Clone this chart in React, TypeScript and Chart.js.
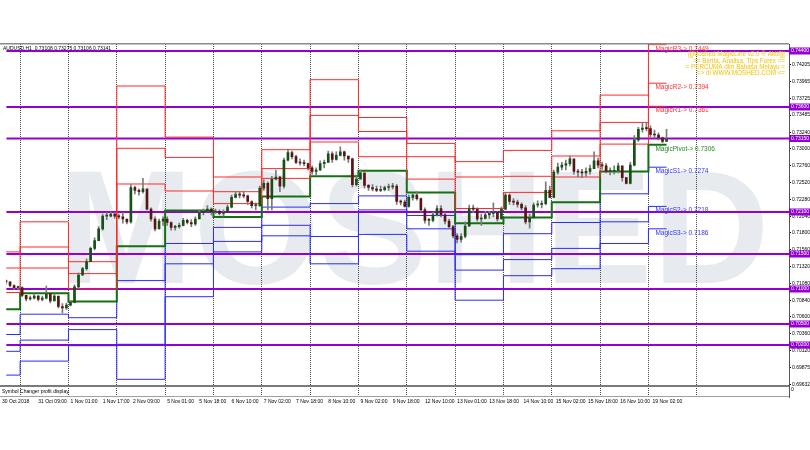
import React, { useEffect, useRef } from "react";
import { Chart, registerables } from "chart.js";
Chart.register(...registerables);

// ---------- data ----------
const symbolInfo = "AUDUSD,H1  0.73108 0.73275 0.73106 0.73141";

// day starts (H1 bar index) for 30 Oct .. 19 Nov 2018
const dayNames = ["30 Oct", "31 Oct", "1 Nov", "2 Nov", "5 Nov", "6 Nov", "7 Nov", "8 Nov", "9 Nov", "12 Nov", "13 Nov", "14 Nov", "15 Nov", "16 Nov", "19 Nov"];
const dayStarts = [0, 24, 48, 72, 96, 120, 144, 168, 192, 216, 240, 264, 288, 312, 336];
const separators = [24, 48, 72, 96, 120, 144, 168, 192, 216, 240, 264, 288, 312, 336, 360];
const lastBar = 345;

// time axis labels
const timeLabels = ["30 Oct 2018", "31 Oct 09:00", "1 Nov 01:00", "1 Nov 17:00", "2 Nov 09:00", "5 Nov 01:00", "5 Nov 18:00", "6 Nov 10:00", "7 Nov 02:00", "7 Nov 18:00", "8 Nov 10:00", "9 Nov 02:00", "9 Nov 18:00", "12 Nov 10:00", "13 Nov 01:00", "13 Nov 18:00", "14 Nov 10:00", "15 Nov 02:00", "15 Nov 18:00", "16 Nov 10:00", "19 Nov 02:00"];
const timeLabelIdx = [15, 33, 49, 65, 80, 97, 113, 129, 145, 161, 177, 193, 209, 225, 241, 257, 274, 290, 306, 322, 338];

// price axis labels
const priceTicks = [0.74205, 0.73965, 0.73725, 0.73485, 0.7324, 0.73, 0.7276, 0.7252, 0.7228, 0.7204, 0.718, 0.7156, 0.7132, 0.7108, 0.7084, 0.706, 0.7036, 0.7012, 0.69875, 0.69632];

// horizontal purple lines
const hLines = [0.744, 0.736, 0.7315, 0.721, 0.715, 0.71, 0.705, 0.702];

// daily Magic pivot levels
const r3 = [0.7153, 0.7196, 0.7139, 0.739, 0.7317, 0.726, 0.7299, 0.7399, 0.7345, 0.7308, 0.7282, 0.7298, 0.7326, 0.7377, 0.7449];
const r2 = [0.713, 0.716, 0.7122, 0.7301, 0.7288, 0.7239, 0.7272, 0.7348, 0.7325, 0.7289, 0.726, 0.7261, 0.729, 0.7338, 0.7394];
const r1 = [0.7095, 0.713, 0.71, 0.725, 0.724, 0.7222, 0.7258, 0.731, 0.7289, 0.7257, 0.7215, 0.7238, 0.726, 0.7307, 0.7361];
const pivot = [0.7071, 0.7094, 0.7082, 0.7161, 0.7212, 0.7203, 0.7232, 0.7261, 0.7269, 0.7238, 0.7194, 0.7202, 0.7224, 0.7268, 0.7306];
const s1 = [0.7035, 0.7064, 0.7059, 0.7112, 0.7165, 0.7188, 0.7217, 0.7222, 0.7233, 0.7205, 0.7149, 0.7179, 0.7195, 0.7236, 0.7274];
const s2 = [0.7011, 0.7027, 0.7042, 0.7021, 0.7136, 0.7168, 0.7191, 0.7175, 0.7213, 0.7186, 0.7127, 0.7142, 0.7158, 0.7196, 0.7218];
const s3 = [0.6977, 0.6997, 0.7019, 0.6971, 0.7089, 0.7153, 0.7176, 0.7136, 0.7178, 0.7154, 0.7084, 0.7119, 0.7129, 0.7165, 0.7186];

// price candles (2-hour steps starting at bar 17), values in pips (x 0.0001)
const firstCandle = 17;
const firstOpen = 7112;
const closes = [
  7110, 7105, 7102, 7102, 7091, 7086, 7087, 7090, 7085, 7087,
  7093, 7083, 7090, 7075, 7073, 7077, 7081, 7103, 7120, 7129,
  7139, 7158, 7169, 7186, 7204, 7204, 7207, 7204, 7203, 7200,
  7196, 7245, 7241, 7239, 7243, 7214, 7200, 7186, 7197, 7200,
  7195, 7188, 7189, 7191, 7198, 7195, 7193, 7200, 7209, 7211,
  7214, 7210, 7211, 7208, 7209, 7217, 7231, 7235, 7234, 7233,
  7225, 7219, 7219, 7244, 7251, 7229, 7257, 7260, 7247, 7284,
  7295, 7289, 7281, 7280, 7279, 7273, 7268, 7270, 7279, 7281,
  7293, 7285, 7291, 7296, 7290, 7286, 7249, 7257, 7266, 7248,
  7245, 7243, 7241, 7242, 7245, 7246, 7247, 7225, 7224, 7218,
  7231, 7234, 7229, 7213, 7198, 7198, 7206, 7215, 7206, 7197,
  7189, 7176, 7171, 7175, 7190, 7215, 7214, 7200, 7201, 7206,
  7208, 7210, 7200, 7214, 7234, 7225, 7224, 7221, 7216, 7196,
  7202, 7220, 7221, 7222, 7241, 7231, 7267, 7274, 7277, 7279,
  7286, 7268, 7267, 7266, 7268, 7272, 7283, 7277, 7276, 7268,
  7268, 7269, 7276, 7259, 7251, 7277, 7313, 7328, 7330, 7329,
  7321, 7320, 7316, 7311, 7314,
];
const highs = [
  7113, 7111, 7106, 7104, 7103, 7091, 7090, 7093, 7091, 7090,
  7104, 7089, 7093, 7086, 7079, 7080, 7083, 7106, 7123, 7131,
  7143, 7160, 7173, 7189, 7207, 7209, 7210, 7209, 7207, 7209,
  7200, 7249, 7247, 7243, 7258, 7241, 7216, 7203, 7200, 7203,
  7203, 7196, 7191, 7194, 7201, 7200, 7199, 7203, 7213, 7214,
  7219, 7216, 7214, 7213, 7213, 7220, 7234, 7239, 7239, 7239,
  7234, 7226, 7223, 7247, 7256, 7253, 7261, 7270, 7261, 7287,
  7300, 7297, 7291, 7286, 7284, 7280, 7276, 7273, 7283, 7284,
  7297, 7296, 7296, 7303, 7297, 7290, 7287, 7261, 7270, 7264,
  7249, 7249, 7247, 7247, 7247, 7250, 7251, 7249, 7227, 7227,
  7234, 7237, 7239, 7230, 7216, 7201, 7210, 7219, 7219, 7209,
  7200, 7191, 7179, 7179, 7196, 7220, 7220, 7216, 7207, 7211,
  7211, 7223, 7211, 7217, 7237, 7236, 7229, 7227, 7223, 7219,
  7207, 7223, 7226, 7226, 7253, 7247, 7270, 7280, 7281, 7284,
  7290, 7281, 7271, 7271, 7273, 7277, 7296, 7287, 7281, 7279,
  7273, 7276, 7280, 7273, 7259, 7281, 7319, 7331, 7337, 7338,
  7333, 7327, 7323, 7317, 7328,
];
const lows = [
  7107, 7103, 7099, 7099, 7089, 7083, 7084, 7086, 7083, 7083,
  7086, 7080, 7083, 7073, 7066, 7071, 7076, 7080, 7101, 7119,
  7127, 7139, 7156, 7169, 7184, 7199, 7203, 7201, 7200, 7194,
  7193, 7194, 7236, 7234, 7237, 7213, 7197, 7183, 7186, 7191,
  7191, 7184, 7184, 7187, 7190, 7193, 7189, 7191, 7200, 7206,
  7210, 7206, 7208, 7206, 7204, 7209, 7216, 7230, 7230, 7230,
  7221, 7216, 7213, 7218, 7241, 7213, 7213, 7256, 7239, 7244,
  7283, 7286, 7279, 7277, 7276, 7270, 7264, 7263, 7269, 7273,
  7281, 7281, 7284, 7290, 7284, 7281, 7246, 7247, 7259, 7244,
  7241, 7240, 7239, 7239, 7240, 7241, 7243, 7221, 7220, 7217,
  7217, 7227, 7227, 7210, 7194, 7191, 7196, 7204, 7203, 7193,
  7187, 7173, 7166, 7167, 7173, 7189, 7209, 7197, 7191, 7200,
  7201, 7203, 7197, 7200, 7213, 7221, 7220, 7217, 7213, 7193,
  7187, 7201, 7217, 7216, 7220, 7230, 7230, 7264, 7270, 7270,
  7276, 7264, 7260, 7259, 7261, 7264, 7273, 7273, 7271, 7266,
  7263, 7264, 7266, 7254, 7250, 7250, 7276, 7311, 7324, 7326,
  7317, 7316, 7313, 7309, 7311,
];

const infoLines = [
  "||[Moshed MagicLine v2.0 \u00AE Aktif]||",
  "== Berita, Analisa, Tips Forex ==",
  "= PERCUMA dlm Bahasa Melayu =",
  "=> di WWW.MOSHED.COM <=",
];

// ---------- styling ----------
const FONT = '"Liberation Sans", Arial, sans-serif';
const RED = "#ff2a2a";
const BLUE = "#2b2bff";
const GREEN = "#157015";
const PURPLE = "#9400d3";
const UP = "#174f17";
const DOWN = "#5a1414";
const WICK = "#7a7a7a";

const X_MIN = 17.1;
const X_MAX = 405.8;
const Y_MIN = 0.694571;
const Y_MAX = 0.745;

const candleIdx = closes.map((_, k) => firstCandle + 2 * k);
const opens = closes.map((c, k) => (k === 0 ? firstOpen : closes[k - 1]));

const stepData = (lv: number[]) => [
  ...dayStarts.map((d, i) => ({ x: d, y: lv[i] })),
  { x: lastBar, y: lv[lv.length - 1] },
];

const levelSets = [
  { name: "MagicR3", data: r3, color: RED, text: "#ff3030", width: 1 },
  { name: "MagicR2", data: r2, color: RED, text: "#ff3030", width: 1 },
  { name: "MagicR1", data: r1, color: RED, text: "#ff3030", width: 1 },
  { name: "MagicPivot", data: pivot, color: GREEN, text: "#1f8a1f", width: 2 },
  { name: "MagicS1", data: s1, color: BLUE, text: "#3333ff", width: 1 },
  { name: "MagicS2", data: s2, color: BLUE, text: "#3333ff", width: 1 },
  { name: "MagicS3", data: s3, color: BLUE, text: "#3333ff", width: 1 },
];

const overlayPlugin = {
  id: "mt4overlay",
  beforeDraw(chart: any) {
    const { ctx } = chart;
    ctx.save();
    ctx.fillStyle = "#ffffff";
    ctx.fillRect(0, 0, chart.width, chart.height);
    ctx.font = `bold 162px ${FONT}`;
    ctx.fillStyle = "#e7eaee";
    ctx.textAlign = "center";
    ctx.textBaseline = "alphabetic";
    ctx.fillText("MOSHED", 414, 283);
    ctx.restore();
  },
  afterDraw(chart: any) {
    const { ctx, chartArea } = chart;
    const xs = chart.scales.x;
    const ys = chart.scales.y;
    ctx.save();
    // frame lines
    ctx.fillStyle = "#8c8c8c";
    ctx.fillRect(0, chartArea.top - 1, chartArea.right, 1.5);
    ctx.fillStyle = "#7a7a7a";
    ctx.fillRect(0, 385, chartArea.right, 2);
    ctx.fillStyle = "#a0a0a0";
    ctx.fillRect(0, chartArea.bottom - 1, chartArea.right, 1);

    // subwindow caption
    ctx.fillStyle = "#000";
    ctx.font = `5px ${FONT}`;
    ctx.textAlign = "left";
    ctx.textBaseline = "middle";
    ctx.fillText("Symbol Changer profit display", 2, 392);
    ctx.fillText("0", chartArea.right + 2, 390);

    // symbol info
    ctx.font = `5px ${FONT}`;
    ctx.fillText(symbolInfo, 3, 48.5);

    // gold info block
    ctx.fillStyle = "#f2c200";
    ctx.font = `6.3px ${FONT}`;
    ctx.textAlign = "right";
    infoLines.forEach((t, i) => ctx.fillText(t, 785, 54.5 + i * 6.3));

    // purple price tags
    ctx.font = `5px ${FONT}`;
    ctx.textAlign = "left";
    hLines.forEach((v) => {
      const y = ys.getPixelForValue(v);
      ctx.fillStyle = PURPLE;
      ctx.fillRect(chartArea.right, y - 3.5, chart.width - chartArea.right, 7);
      ctx.fillStyle = "#ffffff";
      ctx.fillText(v.toFixed(5), chartArea.right + 2, y);
    });

    // Magic level labels
    ctx.font = `6.5px ${FONT}`;
    ctx.textBaseline = "top";
    const lx = xs.getPixelForValue(dayStarts[dayStarts.length - 1]) + 7;
    levelSets.forEach((s) => {
      const v = s.data[s.data.length - 1];
      const y = ys.getPixelForValue(v);
      ctx.fillStyle = s.text;
      ctx.fillText(`${s.name}-> ${v.toFixed(4)}`, lx, y + 1);
    });
    ctx.restore();
  },
};

export default function App() {
  const ref = useRef<HTMLCanvasElement>(null);
  useEffect(() => {
    if (!ref.current) return;
    Chart.defaults.font.family = FONT;
    const datasets: any[] = [];
    datasets.push({
      type: "bar",
      label: "wick",
      data: candleIdx.map((x, k) => ({ x, y: [lows[k] / 1e4, highs[k] / 1e4] })),
      backgroundColor: WICK,
      barThickness: 1,
      grouped: false,
      order: 2,
    });
    datasets.push({
      type: "bar",
      label: "body",
      data: candleIdx.map((x, k) => ({ x, y: [opens[k] / 1e4, closes[k] / 1e4] })),
      backgroundColor: closes.map((c, k) => (c >= opens[k] ? UP : DOWN)),
      barThickness: 2,
      minBarLength: 1,
      grouped: false,
      order: 1,
    });
    levelSets.forEach((s) => {
      datasets.push({
        type: "line",
        label: s.name,
        data: stepData(s.data),
        borderColor: s.color,
        borderWidth: s.width,
        pointRadius: 0,
        stepped: true,
        tension: 0,
        order: 5,
      });
    });
    hLines.forEach((v) => {
      datasets.push({
        type: "line",
        label: "h" + v,
        data: [
          { x: X_MIN, y: v },
          { x: X_MAX, y: v },
        ],
        borderColor: PURPLE,
        borderWidth: 2,
        pointRadius: 0,
        order: 10,
      });
    });

    const chart = new Chart(ref.current, {
      type: "bar",
      data: { datasets },
      plugins: [overlayPlugin],
      options: {
        responsive: false,
        animation: false,
        devicePixelRatio: 1,
        events: [],
        layout: { padding: { top: 44, left: 0, right: 0, bottom: 0 }, autoPadding: false },
        plugins: { legend: { display: false }, tooltip: { enabled: false } },
        scales: {
          x: {
            type: "linear",
            position: "bottom",
            min: X_MIN,
            max: X_MAX,
            offset: false,
            grid: { display: false, drawTicks: false, tickLength: 0 },
            border: { display: false },
            afterBuildTicks: (scale: any) => {
              scale.ticks = timeLabelIdx.map((v) => ({ value: v }));
            },
            afterFit: (scale: any) => {
              scale.height = 53;
            },
            ticks: {
              autoSkip: false,
              maxRotation: 0,
              align: "start",
              padding: 2,
              color: "#000",
              font: { size: 5, family: FONT },
              callback: (_v: any, i: number) => timeLabels[i],
            },
          },
          xs: {
            type: "linear",
            position: "bottom",
            min: X_MIN,
            max: X_MAX,
            offset: false,
            afterBuildTicks: (scale: any) => {
              scale.ticks = separators.map((v) => ({ value: v }));
            },
            afterFit: (scale: any) => {
              scale.height = 0;
            },
            grid: { display: true, drawTicks: false, color: "#4a4a4a", lineWidth: 1, offset: false },
            border: { display: false, dash: [1, 1] },
            ticks: { display: false },
          },
          y: {
            type: "linear",
            position: "right",
            min: Y_MIN,
            max: Y_MAX,
            afterBuildTicks: (scale: any) => {
              scale.ticks = priceTicks.map((v) => ({ value: v }));
            },
            afterFit: (scale: any) => {
              scale.width = 21;
            },
            grid: { drawOnChartArea: false, drawTicks: true, tickLength: 2, color: "#000" },
            border: { display: true, color: "#555", width: 1 },
            ticks: {
              padding: 1,
              color: "#000",
              font: { size: 5, family: FONT },
              callback: (v: any) => Number(v).toFixed(5),
            },
          },
        },
      } as any,
    });
    return () => chart.destroy();
  }, []);
  return (
    <div style={{ position: "absolute", left: 0, top: 0, width: 810, height: 450, background: "#fff" }}>
      <canvas ref={ref} width={810} height={450} style={{ display: "block" }} />
    </div>
  );
}
